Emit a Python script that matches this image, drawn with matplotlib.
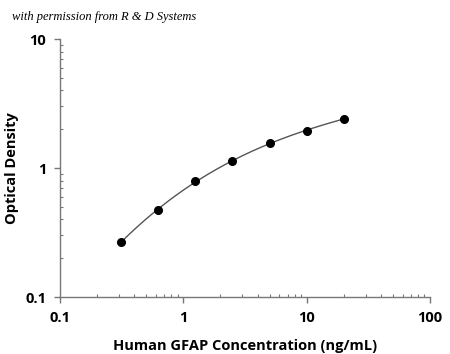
import numpy as np
import matplotlib
matplotlib.use('Agg')
import matplotlib.pyplot as plt
from matplotlib.ticker import LogLocator, NullFormatter, FixedLocator

conc = [0.3125, 0.625, 1.25, 2.5, 5, 10, 20]
od = [0.267, 0.475, 0.789, 1.127, 1.563, 1.946, 2.41]
xticks = [0.1, 1, 10, 100]
xticklabels = ['0.1', '1', '10', '100']
yticks = [0.1, 1, 10]
yticklabels = ['0.1', '1', '10']

plt.rcParams['font.family'] = ['Open Sans', 'DejaVu Sans']

fig = plt.figure(figsize=(4.5, 3.54), dpi=100)
ax = fig.add_axes([0.1333, 0.161, 0.8223, 0.7288])

# smooth fit line through the standards (cubic in log-log space)
lx = np.log10(conc)
ly = np.log10(od)
coef = np.polyfit(lx, ly, 3)
xs = np.linspace(lx[0], lx[-1], 200)
ax.plot(10 ** xs, 10 ** np.polyval(coef, xs), color='#555555', lw=1.0, zorder=2)
ax.plot(conc, od, 'o', color='black', ms=5.5, zorder=3, clip_on=False)

ax.set_xscale('log')
ax.set_yscale('log')
ax.set_xlim(0.1, 100)
ax.set_ylim(0.1, 10)

for s in ['top', 'right']:
    ax.spines[s].set_visible(False)
for s in ['left', 'bottom']:
    ax.spines[s].set_color('#777777')
    ax.spines[s].set_linewidth(1.0)

ax.xaxis.set_major_locator(FixedLocator(xticks))
ax.set_xticklabels(xticklabels)
ax.yaxis.set_major_locator(FixedLocator(yticks))
ax.set_yticklabels(yticklabels)
ax.xaxis.set_minor_locator(LogLocator(base=10, subs=np.arange(2, 10)))
ax.yaxis.set_minor_locator(LogLocator(base=10, subs=np.arange(2, 10)))
ax.xaxis.set_minor_formatter(NullFormatter())
ax.yaxis.set_minor_formatter(NullFormatter())

ax.tick_params(which='major', direction='out', length=4, width=1, color='#777777',
               labelsize=10.5, pad=6)
ax.tick_params(which='minor', direction='in', length=2.5, width=0.8, color='#777777')
for lab in ax.get_xticklabels() + ax.get_yticklabels():
    lab.set_fontweight('bold')

ax.set_xlabel('Human GFAP Concentration (ng/mL)', fontsize=10.5, fontweight='bold', labelpad=10)
fig.text(12 / 450, 0.525, 'Optical Density', fontsize=10.5, fontweight='bold',
         rotation=90, ha='center', va='center')

fig.text(0.027, 0.952, 'with permission from R & D Systems', fontsize=9,
         style='italic', family='Liberation Serif', ha='left', va='center')

fig.savefig('out.png', dpi=100)
